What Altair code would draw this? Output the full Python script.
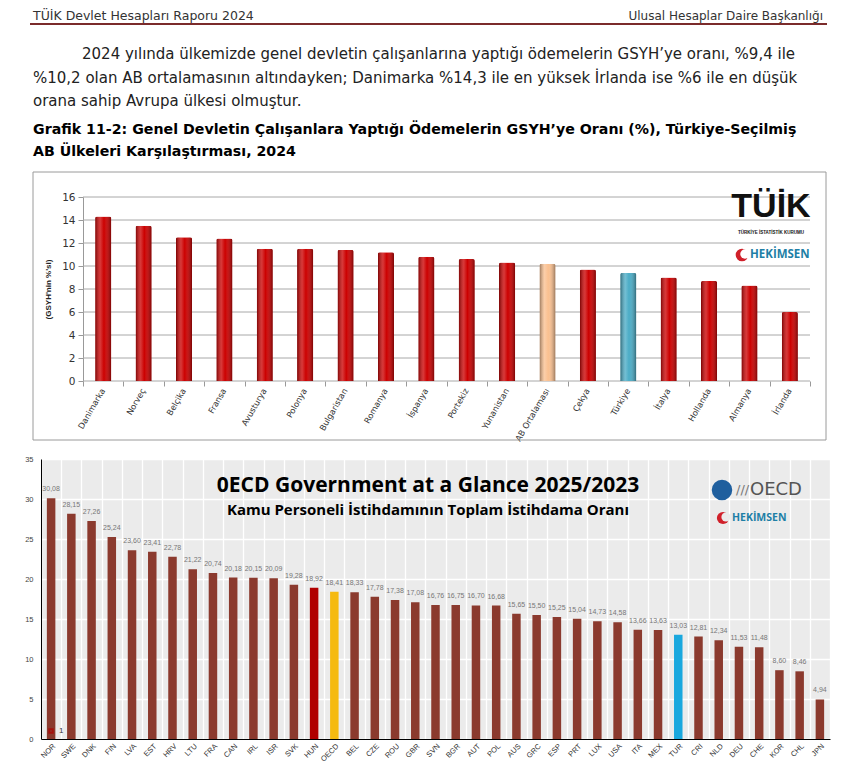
import altair as alt
import pandas as pd

# ---------------- data ----------------
# Chart 1 (TÜİK)
ulkeler = ["Danimarka", "Norveç", "Belçika", "Fransa", "Avusturya", "Polonya", "Bulgaristan",
           "Romanya", "İspanya", "Portekiz", "Yunanistan", "AB Ortalaması", "Çekya", "Türkiye",
           "İtalya", "Hollanda", "Almanya", "İrlanda"]
oranlar = [14.3, 13.5, 12.5, 12.4, 11.5, 11.5, 11.4, 11.2, 10.8, 10.6, 10.3, 10.2, 9.7, 9.4,
           9.0, 8.7, 8.3, 6.0]
y1_ticks = [0, 2, 4, 6, 8, 10, 12, 14, 16]

# Chart 2 (OECD)
kodlar = ["NOR", "SWE", "DNK", "FIN", "LVA", "EST", "HRV", "LTU", "FRA", "CAN", "IRL", "ISR",
          "SVK", "HUN", "OECD", "BEL", "CZE", "ROU", "GBR", "SVN", "BGR", "AUT", "POL", "AUS",
          "GRC", "ESP", "PRT", "LUX", "USA", "ITA", "MEX", "TUR", "CRI", "NLD", "DEU", "CHE",
          "KOR", "CHL", "JPN"]
degerler = [30.08, 28.15, 27.26, 25.24, 23.60, 23.41, 22.78, 21.22, 20.74, 20.18, 20.15, 20.09,
            19.28, 18.92, 18.41, 18.33, 17.78, 17.38, 17.08, 16.76, 16.75, 16.70, 16.68, 15.65,
            15.50, 15.25, 15.04, 14.73, 14.58, 13.66, 13.63, 13.03, 12.81, 12.34, 11.53, 11.48,
            8.60, 8.46, 4.94]
y2_ticks = [0, 5, 10, 15, 20, 25, 30, 35]

# Texts
baslik_sol = "TÜİK Devlet Hesapları Raporu 2024"
baslik_sag = "Ulusal Hesaplar Daire Başkanlığı"
paragraf = [
    "2024 yılında ülkemizde genel devletin çalışanlarına yaptığı ödemelerin GSYH’ye oranı, %9,4 ile",
    "%10,2 olan AB ortalamasının altındayken; Danimarka %14,3 ile en yüksek İrlanda ise %6 ile en düşük",
    "orana sahip Avrupa ülkesi olmuştur.",
]
grafik_baslik = [
    "Grafik 11-2: Genel Devletin Çalışanlara Yaptığı Ödemelerin GSYH’ye Oranı (%), Türkiye-Seçilmiş",
    "AB Ülkeleri Karşılaştırması, 2024",
]
oecd_baslik = "0ECD Government at a Glance 2025/2023"
oecd_alt = "Kamu Personeli İstihdamının Toplam İstihdama Oranı"

one = pd.DataFrame({"k": [0]})
NOVIEW = alt.ViewBackground(strokeWidth=0, strokeOpacity=0)


def txt(text, x, y, size, color="#222", weight="normal", align="left", font="DejaVu Sans"):
    return alt.Chart(one).mark_text(text=text, fontSize=size, color=color, fontWeight=weight,
                                    align=align, baseline="middle", font=font).encode(
        x=alt.value(x), y=alt.value(y))


def corner(x, y):
    return alt.Chart(one).mark_rect(color="white").encode(
        x=alt.value(x), x2=alt.value(x + 1), y=alt.value(y), y2=alt.value(y + 1))


def dot(x, y, size, color):
    return alt.Chart(one).mark_point(filled=True, shape="circle", size=size, color=color,
                                     opacity=1).encode(x=alt.value(x), y=alt.value(y))


# All views share the same left origin (window x = 41).
# ---------------- header view (origin at window 41,8) ----------------
HW, HH = 790, 162
header_layers = [
    corner(-33, 0), corner(HW - 1, HH - 1),
    txt(baslik_sol, -8, 8, 12.5, color="#333"),
    txt(baslik_sag, 782, 8, 12, color="#333", align="right"),
    alt.Chart(one).mark_rule(color="#7b2b2b", strokeWidth=2).encode(
        x=alt.value(-11), x2=alt.value(786), y=alt.value(16)),
    txt(paragraf[0], 41, 46, 15, color="#222"),
    txt(paragraf[1], -8, 70, 15, color="#222"),
    txt(paragraf[2], -8, 93, 15, color="#222"),
    txt(grafik_baslik[0], -8, 122, 14.2, color="#000", weight="bold"),
    txt(grafik_baslik[1], -8, 144, 14.2, color="#000", weight="bold"),
]
header = alt.layer(*header_layers).properties(width=HW, height=HH, view=NOVIEW)

# ---------------- chart 1 (view origin at window 41,197; bars start at window 83) ----------------
W1, H1 = 769, 184
X0 = 42
df1 = pd.DataFrame({"ulke": ulkeler, "oran": oranlar})
df1["grup1"] = ["AB" if u == "AB Ortalaması" else ("TR" if u == "Türkiye" else "diger") for u in ulkeler]
grid1 = pd.DataFrame({"oran": y1_ticks})

x1 = alt.X("ulke:N", sort=ulkeler, title=None,
           scale=alt.Scale(paddingInner=0, paddingOuter=0, range=[X0, W1]),
           axis=alt.Axis(labelAngle=-60, labelFont="DejaVu Sans", labelFontSize=8.3, labelColor="#333",
                         tickBand="extent", ticks=True, tickSize=5, tickColor="#999",
                         domain=False, labelPadding=3, grid=False))
y1 = alt.Y("oran:Q", scale=alt.Scale(domain=[0, 16]),
           axis=alt.Axis(values=y1_ticks, grid=False, domainColor="#999", offset=-X0,
                         tickColor="#999", tickSize=5, labelFont="DejaVu Sans", labelFontSize=10.5,
                         labelColor="#333", labelPadding=3, title="(GSYH'nin %'si)",
                         titleFont="Liberation Sans", titleFontSize=8, titleFontWeight="bold",
                         titleColor="#222", titlePadding=9))

gridlines1 = alt.Chart(grid1).mark_rule(color="#a8a8a8", strokeWidth=1).encode(
    y=y1, x=alt.value(X0), x2=alt.value(W1))
bars1 = alt.Chart(df1).mark_bar(width=alt.RelativeBandSize(0.4), cornerRadiusTopLeft=2,
                                cornerRadiusTopRight=2).encode(
    x=x1, y=y1,
    color=alt.Color("grup1:N", scale=alt.Scale(domain=["diger", "AB", "TR"],
                                               range=["#cc0000", "#fac090", "#4bacc6"]), legend=None))
shade = alt.Gradient(gradient="linear", x1=0, x2=1, y1=0, y2=0, stops=[
    alt.GradientStop(color="rgba(0,0,0,0.40)", offset=0),
    alt.GradientStop(color="rgba(255,255,255,0.22)", offset=0.32),
    alt.GradientStop(color="rgba(255,255,255,0.0)", offset=0.55),
    alt.GradientStop(color="rgba(0,0,0,0.40)", offset=1),
])
shade1 = alt.Chart(df1).mark_bar(width=alt.RelativeBandSize(0.4), color=shade, cornerRadiusTopLeft=2,
                                 cornerRadiusTopRight=2).encode(x=x1, y=y1)

frame1 = alt.Chart(one).mark_rect(filled=False, color="#9a9a9a", strokeWidth=1).encode(
    x=alt.value(-8), x2=alt.value(785), y=alt.value(-25), y2=alt.value(243))

logo1 = [
    txt("TÜİK", 730, 10, 34, color="#111", weight="bold", align="center", font="Liberation Sans"),
    txt("TÜRKİYE İSTATİSTİK KURUMU", 730, 36, 4.5, color="#111", weight="bold", align="center",
        font="Liberation Sans"),
    dot(701, 58, 160, "#d0202a"),
    dot(704, 57, 90, "white"),
    txt("HEKİMSEN", 709, 58, 11.5, color="#1e7fa6", weight="bold", font="Open Sans"),
]

chart1 = alt.layer(corner(-33, -27), corner(789, 245), gridlines1, bars1, shade1, frame1,
                   *logo1).properties(width=W1, height=H1, view=NOVIEW)

# ---------------- chart 2 (plot origin at window 41,462) ----------------
W2, H2 = 789, 280
df2 = pd.DataFrame({"kod": kodlar, "deger": degerler})
df2["grup2"] = [k if k in ("HUN", "OECD", "TUR") else "diger" for k in kodlar]

x2 = alt.X("kod:N", sort=kodlar, title=None,
           scale=alt.Scale(paddingInner=0, paddingOuter=0),
           axis=alt.Axis(labelAngle=-45, labelFont="Liberation Sans", labelFontSize=7.5,
                         labelColor="#333", grid=True, gridColor="white", gridWidth=1.3,
                         tickBand="extent", ticks=False, domainColor="#000", labelPadding=3))
y2 = alt.Y("deger:Q", scale=alt.Scale(domain=[0, 35]),
           axis=alt.Axis(values=y2_ticks, grid=True, gridColor="white", gridWidth=1.3, ticks=False,
                         domainColor="#000", labelFont="Liberation Sans", labelFontSize=7.5,
                         labelColor="#444", labelPadding=8, title=None))

bars2 = alt.Chart(df2).mark_bar(width=alt.RelativeBandSize(0.42)).encode(
    x=x2, y=y2,
    color=alt.Color("grup2:N", scale=alt.Scale(domain=["diger", "HUN", "OECD", "TUR"],
                                               range=["#8b3a2e", "#b00000", "#f5ba10", "#1aa8de"]),
                    legend=None))
labels2 = alt.Chart(df2).transform_calculate(
    etiket="replace(format(datum.deger, '.2f'), '.', ',')"
).mark_text(dy=-9, fontSize=7, color="#777", font="Liberation Sans").encode(
    x=x2, y=y2, text="etiket:N")

deco2 = [
    txt(oecd_baslik, 387, 27, 21, color="#000", weight="bold", align="center", font="Open Sans"),
    txt(oecd_alt, 387, 51, 15, color="#000", weight="bold", align="center", font="Open Sans"),
    dot(681, 31, 420, "#1f5f9e"),
    txt("///", 695, 31, 13, color="#777", font="DejaVu Sans"),
    txt("OECD", 709, 31, 18, color="#555", font="DejaVu Sans"),
    dot(682, 59, 150, "#d0202a"),
    dot(685, 58, 85, "#ebebeb"),
    txt("HEKİMSEN", 691, 59, 10.5, color="#1e7fa6", weight="bold", font="Open Sans"),
    alt.Chart(one).mark_point(shape="square", size=12, color="#b00000", filled=False).encode(
        x=alt.value(10), y=alt.value(272)),
    txt("1", 18, 272, 8, color="#333", font="Liberation Sans"),
]

chart2 = alt.layer(corner(-33, -16), corner(788, 296), bars2, labels2, *deco2).properties(
    width=W2, height=H2,
    view=alt.ViewBackground(fill="#ebebeb", strokeWidth=0, strokeOpacity=0))

chart = alt.ConcatChart(
    concat=[header, chart1, chart2], columns=1, spacing=0, bounds="full"
).resolve_scale(color="independent", x="independent", y="independent").properties(
    padding=0
).configure_view(strokeWidth=0).configure(background="white")

chart.save("out.html", embed_options={"renderer": "svg", "actions": False})
